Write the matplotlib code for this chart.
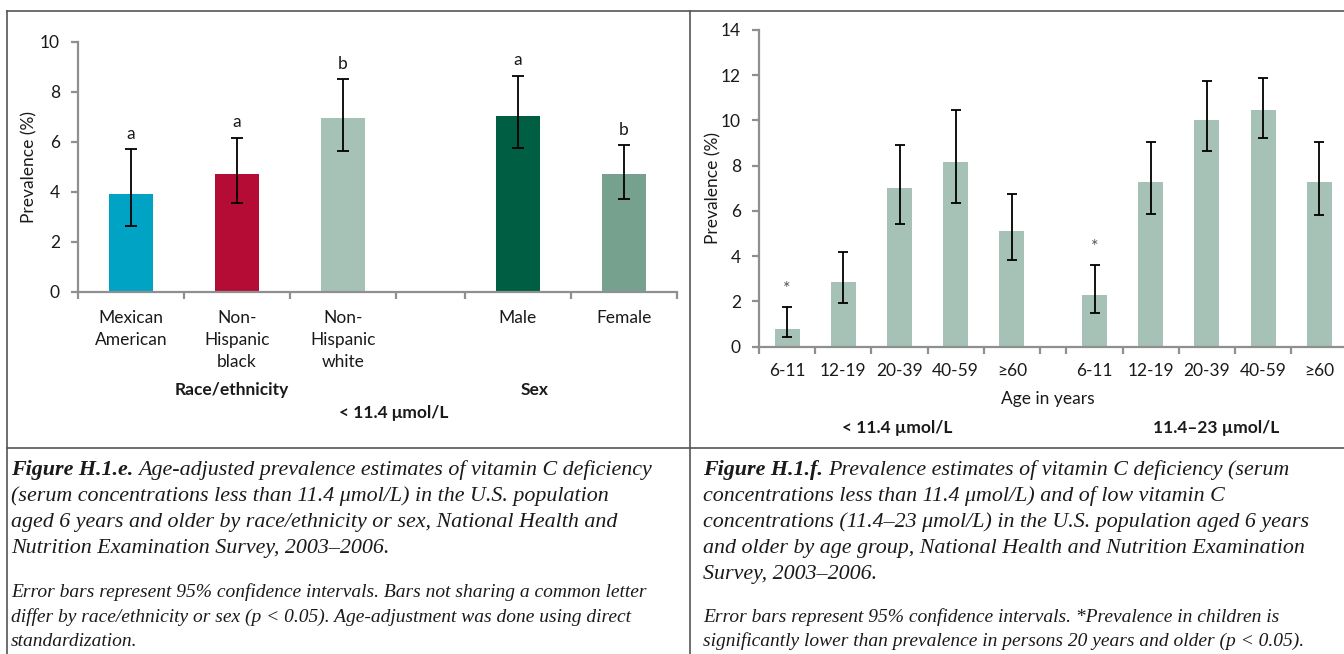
import matplotlib
matplotlib.use("Agg")
import matplotlib.pyplot as plt
from matplotlib.lines import Line2D

plt.rcParams["font.family"] = ["Lato", "DejaVu Sans"]

# ---- data: left panel (race/ethnicity, sex) ----
left_labels = ["Mexican\nAmerican", "Non-\nHispanic\nblack", "Non-\nHispanic\nwhite", "Male", "Female"]
left_values = [3.9, 4.7, 6.95, 7.05, 4.7]
left_low = [2.65, 3.57, 5.65, 5.75, 3.73]
left_high = [5.7, 6.17, 8.5, 8.65, 5.87]
left_letters = ["a", "a", "b", "a", "b"]
left_colors = ["#00A3C4", "#B50C35", "#A6C1B5", "#005E43", "#76A18F"]

# ---- data: right panel (age groups) ----
age_labels = ["6-11", "12-19", "20-39", "40-59", "≥60"]
deficient_values = [0.8, 2.85, 7.0, 8.15, 5.1]
deficient_low = [0.42, 1.92, 5.44, 6.35, 3.85]
deficient_high = [1.75, 4.2, 8.92, 10.48, 6.75]
low_values = [2.3, 7.27, 10.03, 10.47, 7.27]
low_low = [1.47, 5.87, 8.63, 9.23, 5.83]
low_high = [3.6, 9.07, 11.75, 11.9, 9.07]
starred = [True, False, False, False, False]

W, H = 1344, 654
fig = plt.figure(figsize=(W / 100, H / 100), dpi=100)
fig.patch.set_facecolor("white")

axis_gray = "#8f8f8f"
text_col = "#1a1a1a"


def style_axes(ax):
    for s in ["top", "right"]:
        ax.spines[s].set_visible(False)
    for s in ["left", "bottom"]:
        ax.spines[s].set_color(axis_gray)
        ax.spines[s].set_linewidth(1.6)
    ax.tick_params(axis="both", which="major", color=axis_gray, width=1.6, length=5,
                   labelsize=12.5, labelcolor=text_col)
    ax.tick_params(axis="x", which="major", labelbottom=False)
    ax.tick_params(axis="x", which="minor", length=0, labelsize=12.5, labelcolor=text_col)


# ---------------- left chart ----------------
unit_l = 106
axL = fig.add_axes([78 / W, (H - 292) / H, 5.65 * unit_l / W, 250 / H])
style_axes(axL)
posL = [0.5, 1.5, 2.5, 4.15, 5.15]
errL = [[v - lo for v, lo in zip(left_values, left_low)],
        [hi - v for v, hi in zip(left_values, left_high)]]
axL.bar(posL, left_values, width=0.41, color=left_colors, zorder=2)
axL.errorbar(posL, left_values, yerr=errL, fmt="none", ecolor="black",
             elinewidth=1.3, capsize=4, capthick=1.3, zorder=3)
for x, hi, let in zip(posL, left_high, left_letters):
    axL.text(x, hi + 0.3, let, ha="center", va="bottom", fontsize=12.5, color=text_col)
axL.set_xlim(0, 5.65)
axL.set_ylim(0, 10)
axL.set_yticks([0, 2, 4, 6, 8, 10])
axL.set_xticks([0, 1, 2, 3, 3.65, 4.65, 5.65])
axL.set_xticks(posL, minor=True)
axL.set_xticklabels(left_labels, minor=True, linespacing=1.45, va="top")
axL.tick_params(axis="x", which="minor", pad=13)
axL.tick_params(axis="y", pad=8)
axL.set_ylabel("Prevalence (%)", fontsize=12.5, color=text_col)
axL.yaxis.set_label_coords(-0.068, 0.5)

fig.text(232 / W, 1 - 390 / H, "Race/ethnicity", ha="center", va="center",
         fontsize=12.5, fontweight="bold", color=text_col)
fig.text(535 / W, 1 - 390 / H, "Sex", ha="center", va="center",
         fontsize=12.5, fontweight="bold", color=text_col)
fig.text(394 / W, 1 - 413 / H, "< 11.4 μmol/L", ha="center", va="center",
         fontsize=12.5, fontweight="bold", color=text_col)

# ---------------- right chart ----------------
unit_r = 56.2
axR = fig.add_axes([759 / W, (H - 346.7) / H, 10.5 * unit_r / W, 316.7 / H])
style_axes(axR)
pos1 = [0.5, 1.5, 2.5, 3.5, 4.5]
pos2 = [5.97, 6.97, 7.97, 8.97, 9.97]
for pos, vals, lo, hi in [(pos1, deficient_values, deficient_low, deficient_high),
                          (pos2, low_values, low_low, low_high)]:
    err = [[v - l for v, l in zip(vals, lo)], [h - v for v, h in zip(vals, hi)]]
    axR.bar(pos, vals, width=0.445, color="#A6C1B5", zorder=2)
    axR.errorbar(pos, vals, yerr=err, fmt="none", ecolor="black",
                 elinewidth=1.3, capsize=3.5, capthick=1.3, zorder=3)
    for x, h, st in zip(pos, hi, starred):
        if st:
            axR.text(x, h + 0.45, "*", ha="center", va="bottom", fontsize=13, color="#555555")
axR.set_xlim(0, 10.5)
axR.set_ylim(0, 14)
axR.set_yticks(range(0, 15, 2))
axR.set_xticks([0, 1, 2, 3, 4, 5, 5.47, 6.47, 7.47, 8.47, 9.47, 10.47])
axR.set_xticks(pos1 + pos2, minor=True)
axR.set_xticklabels(age_labels + age_labels, minor=True)
axR.tick_params(axis="x", which="minor", pad=12)
axR.tick_params(axis="y", pad=8)
axR.set_ylabel("Prevalence (%)", fontsize=12.5, color=text_col)
axR.yaxis.set_label_coords(-0.064, 0.5)
axR.spines["bottom"].set_clip_on(False)

fig.text(1048 / W, 1 - 399 / H, "Age in years", ha="center", va="center",
         fontsize=12.5, color=text_col)
fig.text(897 / W, 1 - 428 / H, "< 11.4 µmol/L", ha="center", va="center",
         fontsize=12.5, fontweight="bold", color=text_col)
fig.text(1216 / W, 1 - 428 / H, "11.4–23 µmol/L", ha="center", va="center",
         fontsize=12.5, fontweight="bold", color=text_col)

# ---------------- frame lines ----------------
frame_col = "#555555"
for xs, ys in [((7, 1344), (11, 11)), ((7, 7), (11, 654)), ((690, 690), (11, 654)),
               ((7, 1344), (448, 448))]:
    fig.add_artist(Line2D([x / W for x in xs], [1 - y / H for y in ys],
                          color=frame_col, lw=1.2))

# ---------------- captions ----------------
serif = ["Liberation Serif", "DejaVu Serif"]
cap_size = 15.8
note_size = 14.0
renderer = fig.canvas.get_renderer()


def caption(x, title, lines, notes, line_y, note_y):
    t = fig.text(x / W, 1 - line_y[0] / H, title, fontsize=cap_size, family=serif,
                 style="italic", fontweight="bold", va="baseline", color=text_col)
    bb = t.get_window_extent(renderer)
    fig.text((bb.x1 + 5) / W, 1 - line_y[0] / H, lines[0], fontsize=cap_size, family=serif,
             style="italic", va="baseline", color=text_col)
    for ln, y in zip(lines[1:], line_y[1:]):
        fig.text(x / W, 1 - y / H, ln, fontsize=cap_size, family=serif,
                 style="italic", va="baseline", color=text_col)
    for ln, y in zip(notes, note_y):
        fig.text(x / W, 1 - y / H, ln, fontsize=note_size, family=serif,
                 style="italic", va="baseline", color=text_col)


caption(11, "Figure H.1.e.",
        ["Age-adjusted prevalence estimates of vitamin C deficiency",
         "(serum concentrations less than 11.4 μmol/L) in the U.S. population",
         "aged 6 years and older by race/ethnicity or sex, National Health and",
         "Nutrition Examination Survey, 2003–2006."],
        ["Error bars represent 95% confidence intervals. Bars not sharing a common letter",
         "differ by race/ethnicity or sex (p < 0.05). Age-adjustment was done using direct",
         "standardization."],
        [475, 501, 527, 553], [597, 622, 646])

caption(703, "Figure H.1.f.",
        ["Prevalence estimates of vitamin C deficiency (serum",
         "concentrations less than 11.4 μmol/L) and of low vitamin C",
         "concentrations (11.4–23 μmol/L) in the U.S. population aged 6 years",
         "and older by age group, National Health and Nutrition Examination",
         "Survey, 2003–2006."],
        ["Error bars represent 95% confidence intervals. *Prevalence in children is",
         "significantly lower than prevalence in persons 20 years and older (p < 0.05)."],
        [475, 501, 527, 553, 579], [622, 646])

fig.savefig("out.png", dpi=100)
